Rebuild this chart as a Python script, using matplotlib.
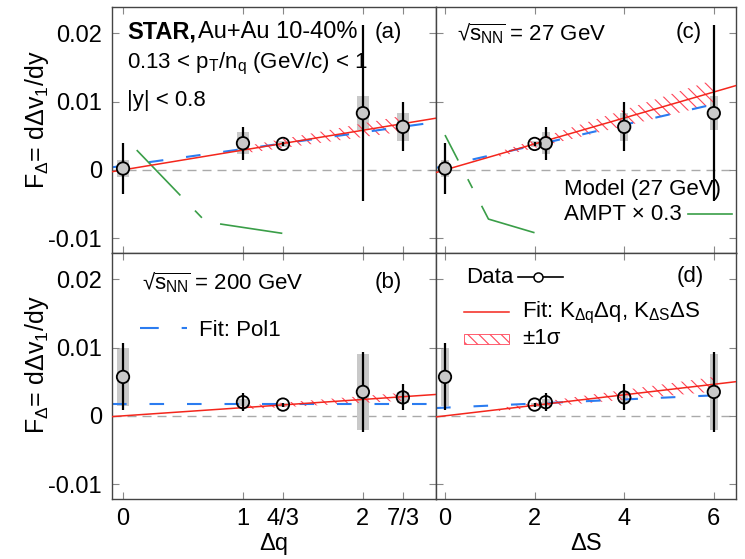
import matplotlib
matplotlib.use("Agg")
import matplotlib.pyplot as plt
import numpy as np
from matplotlib.patches import Rectangle

plt.rcParams['font.family'] = ['Liberation Sans', 'DejaVu Sans']
plt.rcParams['mathtext.fontset'] = 'custom'
plt.rcParams['mathtext.rm'] = 'Liberation Sans'
plt.rcParams['mathtext.it'] = 'Liberation Sans:italic'
plt.rcParams['mathtext.bf'] = 'Liberation Sans:bold'
plt.rcParams['mathtext.default'] = 'regular'
plt.rcParams['hatch.linewidth'] = 0.8

# ---- data ----
dq = [0, 1, 4/3, 2, 7/3]
dS = [0, 2.25, 2, 6, 4]
dq_ticks = [0, 1, 4/3, 2, 7/3]
dq_ticklabels = ['0', '1', '4/3', '2', '7/3']
dS_ticks = [0, 2, 4, 6]
y_ticks = [-0.01, 0, 0.01, 0.02]
y_ticklabels = ['-0.01', '0', '0.01', '0.02']

F27 = [0.0002, 0.0039, 0.0038, 0.0083, 0.0063]
F27_stat = [0.0037, 0.0024, 0.0003, 0.0129, 0.0036]
F27_sys = [0.0013, 0.0016, 0.0004, 0.0025, 0.0020]
F200 = [0.0057, 0.0020, 0.00165, 0.0035, 0.0027]
F200_stat = [0.0049, 0.0013, 0.0003, 0.0058, 0.0019]
F200_sys = [0.0042, 0.0005, 0.0003, 0.0055, 0.0008]

# fit K*x with +-1 sigma band, and Pol1 (intercept, slope)
K27_dq, K27_dq_err = 0.0029, 0.0005
K27_dS, K27_dS_err = 0.0019, 0.0003
K200_dq, K200_dq_err = 0.0012, 0.00025
K200_dS, K200_dS_err = 0.00077, 0.00018
pol1_27_dq = (0.0006, 0.00245)
pol1_27_dS = (0.0006, 0.0015)
pol1_200_dq = (0.0018, 0.0)
pol1_200_dS = (0.0012, 0.0003)
band_dq = (1, 7/3)
band_dS = (1.2, 6)

# AMPT x 0.3 (27 GeV)
ampt_dq = [0.114, 0.69, 4/3]
ampt_dq_F = [0.0029, -0.0076, -0.0093]
ampt_dS = [0, 0.97, 2.0]
ampt_dS_F = [0.0051, -0.0072, -0.0092]

RED = '#f4261c'
HATCH = '#ff4458'
BLUE = '#2b7cf0'
GREEN = '#3a9e48'
BOX = '#c9c9c9'

xlim_dq = (-0.094, 2.61)
xlim_dS = (-0.2, 6.49)
ylim = (-0.0121, 0.0239)

fig = plt.figure(figsize=(7.45, 5.59), dpi=100)
L, WL, WR = 0.150, 0.4353, 0.4023
B_bot, H = 0.1082, 0.4400
ax_a = fig.add_axes([L, B_bot + H, WL, H])
ax_c = fig.add_axes([L + WL, B_bot + H, WR, H])
ax_b = fig.add_axes([L, B_bot, WL, H])
ax_d = fig.add_axes([L + WL, B_bot, WR, H])


def style(ax, xlim, ticks, labels, show_x, show_y):
    ax.set_xlim(*xlim)
    ax.set_ylim(*ylim)
    ax.set_xticks(ticks)
    ax.set_yticks(y_ticks)
    if show_x:
        ax.set_xticklabels(labels)
    else:
        ax.set_xticklabels([])
    if show_y:
        ax.set_yticklabels(y_ticklabels)
    else:
        ax.set_yticklabels([])
    ax.tick_params(direction='in', length=5, width=0.8, color='#888888',
                   top=True, right=True, labelsize=17, pad=7)
    for s in ax.spines.values():
        s.set_color('#444444')
        s.set_linewidth(1.0)
    ax.axhline(0, color='#aaaaaa', lw=1.0, ls=(0, (6.5, 4.3)), zorder=0)


def data(ax, x, y, stat, sys, w):
    x = np.asarray(x)
    y = np.asarray(y)
    sys = np.asarray(sys)
    ax.bar(x, 2 * sys, bottom=y - sys, width=w, color=BOX, lw=0, zorder=1)
    ax.errorbar(x, y, yerr=stat, fmt='none', ecolor='k', elinewidth=1.6,
                capsize=0, zorder=4)
    faces = [BOX if s >= 0.001 else 'none' for s in sys]
    ax.scatter(x, y, s=80, facecolors=faces, edgecolors='k', linewidths=1.3,
               zorder=5)


def fits(ax, xlim, K, Kerr, pol1, band, pol1_end=None):
    xs = np.linspace(xlim[0], xlim[1], 50)
    ax.plot(xs, K * xs, color=RED, lw=1.1, zorder=3)
    xb = np.linspace(band[0], band[1], 50)
    ax.fill_between(xb, (K - Kerr) * xb, (K + Kerr) * xb, facecolor='none',
                    edgecolor=HATCH, hatch='\\\\\\', lw=0, zorder=2)
    xe = xlim[1] if pol1_end is None else pol1_end
    xp = np.linspace(xlim[0], xe, 50)
    ax.plot(xp, pol1[0] + pol1[1] * xp, color=BLUE, lw=1.5,
            ls=(0, (7.0, 11.0)), zorder=2)


style(ax_a, xlim_dq, dq_ticks, dq_ticklabels, False, True)
style(ax_c, xlim_dS, dS_ticks, dS_ticks, False, False)
style(ax_b, xlim_dq, dq_ticks, dq_ticklabels, True, True)
style(ax_d, xlim_dS, dS_ticks, [str(t) for t in dS_ticks], True, False)

fits(ax_a, xlim_dq, K27_dq, K27_dq_err, pol1_27_dq, band_dq)
fits(ax_c, xlim_dS, K27_dS, K27_dS_err, pol1_27_dS, band_dS, pol1_end=6.0)
fits(ax_b, xlim_dq, K200_dq, K200_dq_err, pol1_200_dq, band_dq)
fits(ax_d, xlim_dS, K200_dS, K200_dS_err, pol1_200_dS, band_dS, pol1_end=6.25)

ax_a.plot(ampt_dq, ampt_dq_F, color=GREEN, lw=1.2,
          ls=(0, (37.8, 12.6, 6.0, 12.0)), zorder=2)
ax_c.plot(ampt_dS, ampt_dS_F, color=GREEN, lw=1.2,
          ls=(20.6, (37.8, 12.6, 6.0, 12.0)), zorder=2)

data(ax_a, dq, F27, F27_stat, F27_sys, 0.095)
data(ax_c, dS, F27, F27_stat, F27_sys, 0.18)
data(ax_b, dq, F200, F200_stat, F200_sys, 0.095)
data(ax_d, dS, F200, F200_stat, F200_sys, 0.18)

# ---- texts ----
fs = 16
ta = ax_a.transAxes
ax_a.text(0.047, 0.872, 'STAR,', transform=ta, fontsize=17, weight='bold')
ax_a.text(0.265, 0.872, 'Au+Au 10-40%', transform=ta, fontsize=17)
ax_a.text(0.047, 0.750, r'0.13 < p$_T$/n$_q$ (GeV/c) < 1', transform=ta,
          fontsize=fs)
ax_a.text(0.047, 0.597, '|y| < 0.8', transform=ta, fontsize=fs)
ax_a.text(0.895, 0.872, '(a)', transform=ta, fontsize=fs, ha='right')

sqrt_s = r'√$\overline{s_{NN}}$'
tc = ax_c.transAxes
ax_c.text(0.069, 0.862, sqrt_s + ' = 27 GeV', transform=tc, fontsize=fs)
ax_c.text(0.886, 0.872, '(c)', transform=tc, fontsize=fs, ha='right')
ax_c.text(0.428, 0.2355, 'Model (27 GeV)', transform=tc, fontsize=fs)
ax_c.text(0.428, 0.131, 'AMPT × 0.3', transform=tc, fontsize=fs)
ax_c.plot([0.841, 0.988], [0.158, 0.158], transform=tc, color=GREEN, lw=1.2,
          clip_on=False)

tb = ax_b.transAxes
ax_b.text(0.0925, 0.849, sqrt_s + ' = 200 GeV', transform=tb, fontsize=fs)
ax_b.text(0.895, 0.856, '(b)', transform=tb, fontsize=fs, ha='right')
ax_b.plot([0.087, 0.233], [0.6945, 0.6945], transform=tb, color=BLUE, lw=1.5,
          ls=(0, (9.0, 11.0)))
ax_b.text(0.269, 0.659, 'Fit: Pol1', transform=tb, fontsize=fs)

td = ax_d.transAxes
ax_d.text(0.102, 0.8765, 'Data', transform=td, fontsize=fs)
ax_d.plot([0.274, 0.424], [0.901, 0.901], transform=td, color='k', lw=1.2)
ax_d.plot([0.340], [0.901], 'o', transform=td, ms=6.5, mfc='white',
          mec='k', mew=1.1)
ax_d.text(0.892, 0.881, '(d)', transform=td, fontsize=fs, ha='right')
ax_d.plot([0.0934, 0.2436], [0.760, 0.760], transform=td, color=RED, lw=1.1)
ax_d.text(0.287, 0.736, r'Fit: K$_{\Delta q}$$\Delta$q, K$_{\Delta S}$$\Delta$S',
          transform=td, fontsize=fs)
ax_d.add_patch(Rectangle((0.0934, 0.629), 0.150, 0.041, transform=td,
                         facecolor='none', edgecolor=HATCH, hatch='\\\\\\',
                         lw=0.6))
ax_d.text(0.287, 0.629, '±1σ', transform=td, fontsize=fs)

ax_b.set_xlabel('Δq', fontsize=17, labelpad=2)
ax_d.set_xlabel('ΔS', fontsize=17, labelpad=2)

ylab = r'F$_\Delta$= d$\Delta$v$_1$/dy'
fig.text(0.050, 1 - 120 / 559, ylab, rotation=90, fontsize=18,
         ha='center', va='center')
fig.text(0.050, 1 - 365 / 559, ylab, rotation=90, fontsize=18,
         ha='center', va='center')

fig.savefig('out.png', dpi=100)
